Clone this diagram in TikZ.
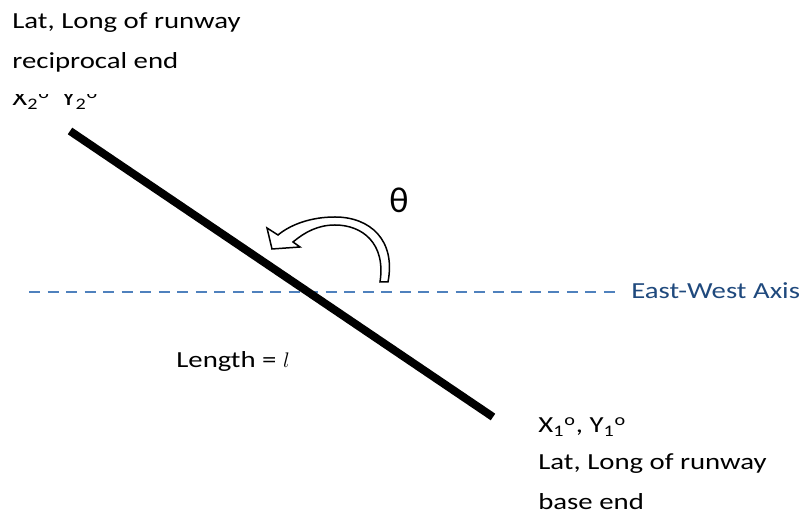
\documentclass[tikz,border=0pt]{standalone}
\usepackage{fontspec}
\setmainfont[FakeStretch=1.25]{Carlito}
\newfontfamily\thetafont{Carlito}
\definecolor{cAxis}{HTML}{4F81BD}
\definecolor{cAxisText}{HTML}{1F497D}

\begin{document}
\begin{tikzpicture}[
  x=0.02cm, y=-0.02cm,
  lbl/.style={inner sep=0pt, anchor=base west, align=left,
              font=\fontsize{13.1}{22.8}\selectfont},
  runway/.style={line width=0.16cm, line cap=butt},
  axisline/.style={draw=cAxis, line width=0.05cm,
                   dash pattern=on 0.22cm off 0.151cm},
  turnarrow/.style={draw=black, fill=white, line width=0.03cm,
                    line join=miter},
]
\useasboundingbox (0,0) rectangle (809,519);

\coordinate (recipEnd) at (70,131);
\coordinate (baseEnd) at (493,417);
\coordinate (axisStart) at (29,292);
\coordinate (axisEnd) at (616,292);

\node[lbl] (recipName) at (12,69) {Lat, Long of runway\\reciprocal end};
\begin{scope}
  \clip (0,95) rectangle (200,125);
  \node[lbl] (recipPos) at (12,106)
    {X\textsubscript{2}\textsuperscript{o}\hspace{3pt} Y\textsubscript{2}\textsuperscript{o}};
\end{scope}

\node[lbl] (basePos) at (538,433)
  {X\textsubscript{1}\textsuperscript{o}, Y\textsubscript{1}\textsuperscript{o}};
\node[lbl] (baseName) at (538,510) {Lat, Long of runway\\base end};

\node[lbl] (length) at (176,368) {Length = $l$};
\node[lbl, text=cAxisText] (axis) at (631,299) {East-West Axis};
\node[inner sep=0pt, font=\thetafont\fontsize{20.5}{24}\selectfont]
  (theta) at (399,200) {θ};

\draw[axisline] (axisStart) -- (axisEnd);
\draw[runway] (recipEnd) -- (baseEnd);

\draw[turnarrow] (388,282)
  .. controls (396,240) and (370,217) .. (335,217)
  .. controls (310,217) and (290,225) .. (278,235)
  -- (267,228) -- (272,249) -- (300,247) -- (293,242)
  .. controls (305,232) and (318,225) .. (335,225)
  .. controls (362,225) and (386,243) .. (380,282) -- cycle;

\end{tikzpicture}
\end{document}
